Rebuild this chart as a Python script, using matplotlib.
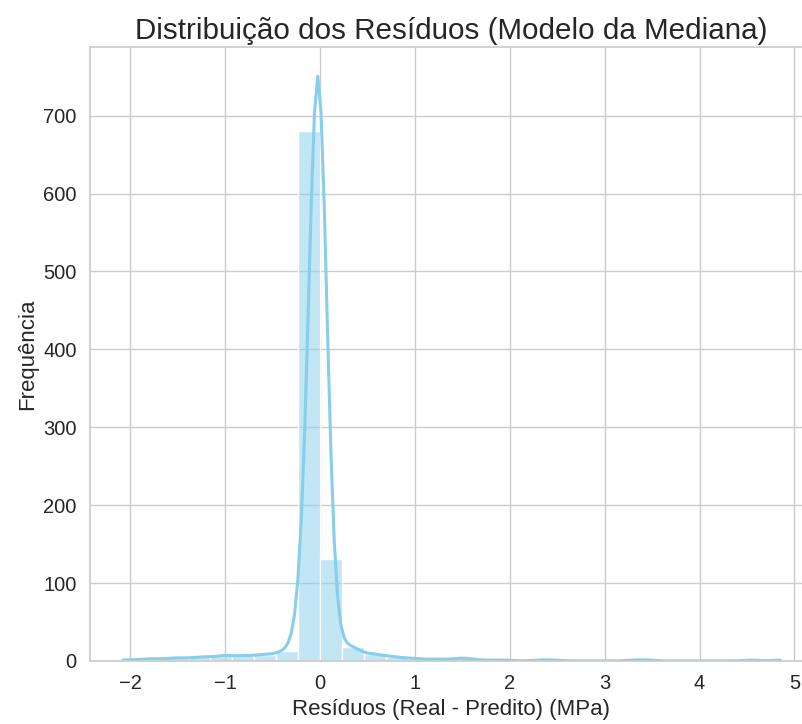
"""Histogram + KDE of the median-model residuals."""

import matplotlib
matplotlib.use("Agg")
import matplotlib.pyplot as plt
import numpy as np
import pandas as pd
import seaborn as sns

# Residual values (MPa) and how many samples sit at each value,
# read off the reference histogram / KDE.
residual_values = [
    -2.08, -1.92, -1.78, -1.66, -1.55, -1.45, -1.32, -1.22, -1.08, -0.98,
    -0.85, -0.76, -0.64, -0.54, -0.42, -0.32,
    -0.20, -0.16, -0.12, -0.08, -0.04, -0.02, -0.005,
    0.01, 0.03, 0.06, 0.10, 0.15, 0.20,
    0.28, 0.38, 0.52, 0.63, 0.75, 0.86, 0.98, 1.10, 1.25, 1.45,
    1.55, 1.75, 1.95, 2.30, 2.45, 3.30, 3.45, 4.55, 4.85,
]
residual_counts = [
    1, 1, 2, 1, 2, 2, 2, 3, 3, 4,
    3, 3, 4, 4, 5, 8,
    15, 25, 45, 80, 150, 180, 185,
    55, 35, 20, 12, 6, 3,
    10, 8, 5, 4, 3, 2, 2, 1, 2, 2,
    2, 1, 1, 1, 1, 1, 1, 1, 1,
]
N_BINS = 30

TITLE = "Distribuição dos Resíduos (Modelo da Mediana)"
XLABEL = "Resíduos (Real - Predito) (MPa)"
YLABEL = "Frequência"

sns.set_theme(style="whitegrid")
plt.rcParams["font.family"] = ["Liberation Sans", "DejaVu Sans"]

residuos = pd.Series(np.repeat(residual_values, residual_counts))

fig = plt.figure(figsize=(8.02, 7.24), dpi=100)
# the original figure is a little wider; its right edge is cut off
ax = fig.add_axes([90 / 802, 63 / 724, 723 / 802, 614 / 724])
sns.histplot(residuos, bins=N_BINS, kde=True, color="skyblue",
             kde_kws={"bw_adjust": 0.8}, line_kws={"linewidth": 2.2}, ax=ax)

ax.set_title(TITLE, fontsize=21.3, color="#262626")
ax.set_xlabel(XLABEL, fontsize=16)
ax.set_ylabel(YLABEL, fontsize=16)
ax.tick_params(labelsize=14.5)

fig.savefig("out.png", dpi=100)
plt.close(fig)
